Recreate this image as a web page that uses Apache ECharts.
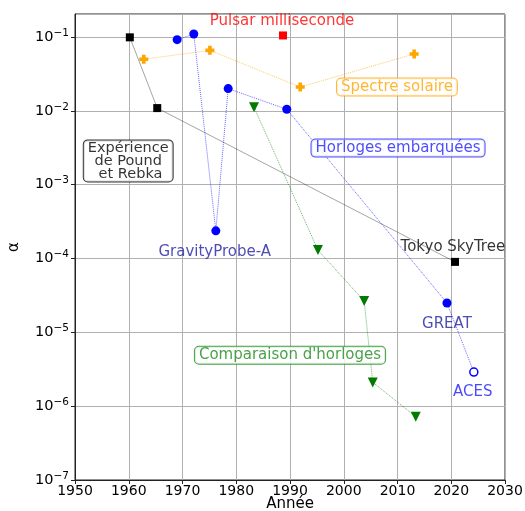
<!DOCTYPE html>
<html>
<head>
<meta charset="utf-8">
<script src="https://cdn.jsdelivr.net/npm/echarts@6/dist/echarts.min.js"></script>
<style>
  html, body { margin: 0; padding: 0; background: #fff; }
  #chart { width: 525px; height: 511px; }
</style>
</head>
<body>
<div id="chart"></div>
<script>
// Pound-Rebka -> Tokyo SkyTree (black)
const terrestre = [[1960.2, 0.099], [1965.3, 0.0109], [2020.7, 9.0e-5]]
// Pulsar (red)
const pulsar = [[1988.7, 0.105]]
// Spectre solaire (orange)
const solaire = [[1962.8, 0.050], [1975.1, 0.066], [1991.9, 0.021], [2013.1, 0.059]]
// Horloges embarquées (blue), last point (ACES) is a projection
const embarquees = [[1969.0, 0.092], [1972.1, 0.110], [1976.2, 2.37e-4], [1978.5, 0.020], [1989.4, 0.0105], [2019.2, 2.5e-5]]
const aces = [2024.2, 2.9e-6]
// Comparaison d'horloges (green)
const comparaison = [[1983.3, 0.0112], [1995.2, 1.3e-4], [2003.8, 2.65e-5], [2005.4, 2.1e-6], [2013.4, 7.2e-7]]

// annotations: [year, alpha, text, color, boxed]
const annotations = [
  [1988.5, 0.165, 'Pulsar milliseconde', '#ff0000', false],
  [2009.9, 0.021, 'Spectre solaire', '#ffa500', true],
  [1959.9, 0.0021, 'Expérience\nde Pound\n et Rebka', '#000000', true],
  [2010.1, 0.00313, 'Horloges embarquées', '#2020ff', true],
  [1976.0, 1.22e-4, 'GravityProbe-A', '#2020a0', false],
  [2020.3, 1.43e-4, 'Tokyo SkyTree', '#000000', false],
  [2019.2, 1.29e-5, 'GREAT', '#2020a0', false],
  [2024.0, 1.55e-6, 'ACES', '#1a1aff', false],
  [1990.0, 4.9e-6, "Comparaison d'horloges", '#1a8a1a', true]
]

const plusPath = 'path://M3,0H7V3H10V7H7V10H3V7H0V3H3Z'
const font = 'DejaVu Sans'

const chart = echarts.init(document.getElementById('chart'))

function supLabel(v) {
  const e = Math.log10(v)
  if (Math.abs(e - Math.round(e)) > 1e-6) return ''
  return '{b|10}{s|\u2212' + Math.abs(Math.round(e)) + '}'
}

chart.setOption({
  backgroundColor: '#fff',
  animation: false,
  grid: {
    left: 75, right: 20, top: 14, bottom: 31, outerBoundsMode: 'none',
    show: true, borderColor: '#222', borderWidth: 1
  },
  xAxis: {
    type: 'value', min: 1950, max: 2030, interval: 10,
    name: 'Année', nameLocation: 'middle', nameGap: 17, nameMoveOverlap: false,
    nameTextStyle: { fontFamily: font, fontSize: 15, color: '#000' },
    axisLine: { show: true, onZero: false, lineStyle: { color: '#222' } },
    axisTick: { show: true, length: 4, lineStyle: { color: '#222' } },
    axisLabel: { fontFamily: font, fontSize: 14, color: '#000', margin: 4, formatter: v => String(v) },
    splitLine: { show: true, lineStyle: { color: '#b0b0b0', width: 1 } }
  },
  yAxis: {
    type: 'log', min: 1e-7, max: 0.205, logBase: 10,
    name: 'α', nameLocation: 'middle', nameGap: 53, nameMoveOverlap: false,
    nameTextStyle: { fontFamily: font, fontSize: 15, color: '#000' },
    axisLine: { show: true, lineStyle: { color: '#222' } },
    axisTick: { show: true, length: 4, lineStyle: { color: '#222' } },
    axisLabel: {
      fontFamily: font, color: '#000', margin: 6,
      showMaxLabel: false,
      formatter: supLabel,
      rich: {
        b: { fontFamily: font, fontSize: 14.5, color: '#000' },
        s: { fontFamily: font, fontSize: 10.5, color: '#000', padding: [0, 0, 8, 0] }
      }
    },
    splitLine: { show: true, lineStyle: { color: '#b0b0b0', width: 1 } }
  },
  series: [
    {
      type: 'line', data: terrestre, symbol: 'rect', symbolSize: 8,
      itemStyle: { color: '#000' },
      lineStyle: { color: 'rgba(0,0,0,0.45)', width: 0.8 }
    },
    {
      type: 'scatter', data: pulsar, symbol: 'rect', symbolSize: 8,
      itemStyle: { color: '#ff0000', opacity: 1 }
    },
    {
      type: 'line', data: solaire, symbol: plusPath, symbolSize: 9,
      itemStyle: { color: '#ffa500' },
      lineStyle: { color: 'rgba(255,165,0,0.6)', width: 1, type: 'dotted' }
    },
    {
      type: 'line', symbol: 'circle', symbolSize: 9,
      data: embarquees.concat([{
        value: aces, symbolSize: 8,
        itemStyle: { color: '#fff', borderColor: '#0000ff', borderWidth: 1.5 }
      }]),
      itemStyle: { color: '#0000ff' },
      lineStyle: { color: 'rgba(0,0,255,0.6)', width: 1, type: 'dotted' }
    },
    {
      type: 'line', data: comparaison, symbol: 'triangle', symbolRotate: 180, symbolSize: 10,
      itemStyle: { color: '#007a00' },
      lineStyle: { color: 'rgba(0,128,0,0.6)', width: 1, type: 'dotted' }
    },
    {
      type: 'scatter', symbolSize: 0, silent: true, z: 10,
      data: annotations.map(a => ({
        value: [a[0], a[1]],
        label: {
          show: true, position: 'inside', formatter: a[2],
          fontFamily: font, fontSize: a[2].includes('\n') ? 14.5 : 15, color: a[3],
          lineHeight: a[2].includes('\n') ? 13 : 15, align: 'center',
          backgroundColor: a[4] ? '#fff' : 'transparent',
          borderColor: a[4] ? a[3] : 'transparent', borderWidth: a[4] ? 1 : 0,
          borderRadius: 4, padding: a[4] ? [1, 4, 1, 4] : 0
        }
      }))
    }
  ]
})
</script>
</body>
</html>
